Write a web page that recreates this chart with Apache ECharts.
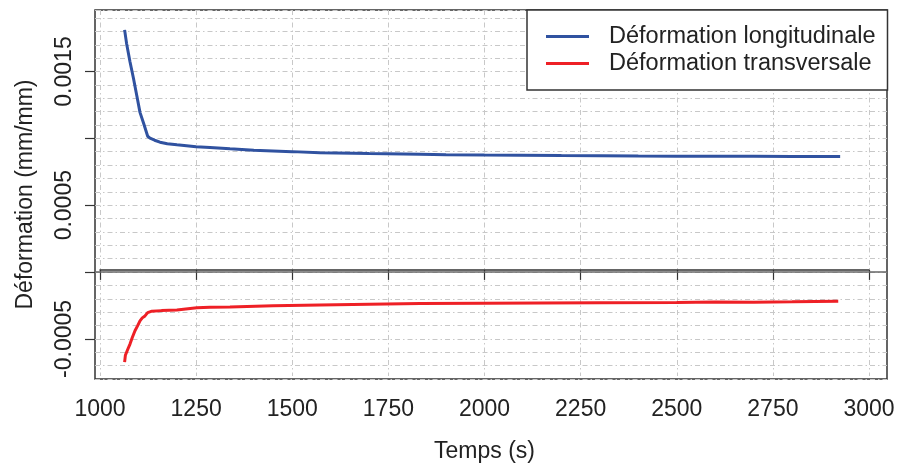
<!DOCTYPE html>
<html>
<head>
<meta charset="utf-8">
<script src="https://cdn.jsdelivr.net/npm/echarts@6/dist/echarts.min.js"></script>
<style>
  html, body { margin: 0; padding: 0; background: #fff; }
  #chart { width: 898px; height: 468px; }
</style>
</head>
<body>
<div id="chart"></div>
<script>
// temps (s) et deformation longitudinale (mm/mm)
var tempsLong = [1064, 1069, 1078, 1087, 1096, 1104, 1114, 1124, 1130, 1142, 1156, 1175, 1200, 1250, 1286, 1338,
  1400, 1500, 1572, 1700, 1833, 1900, 2000, 2093, 2200, 2300, 2400, 2500, 2600, 2700, 2800, 2925];
var defLong = [0.00181, 0.00171, 0.00157, 0.001445, 0.00131, 0.001188, 0.00110, 0.001008, 0.000993, 0.000978, 0.000963, 0.000952, 0.000943, 0.000928, 0.000923, 0.000913,
  0.000903, 0.000892, 0.000883, 0.000877, 0.000873, 0.000869, 0.000866, 0.000865, 0.000862, 0.000861, 0.000859, 0.000858, 0.000857, 0.000857, 0.000856, 0.000855];

// deformation transversale
var tempsTrans = [1064, 1066, 1072, 1078, 1084, 1091, 1098, 1104, 1110, 1117, 1124, 1135, 1160, 1200, 1252, 1286, 1338,
  1450, 1572, 1700, 1833, 2000, 2145, 2300, 2500, 2600, 2700, 2800, 2920];
var defTrans = [-0.000696, -0.000644, -0.0006, -0.000559, -0.00051, -0.000459, -0.00042, -0.000384, -0.000362, -0.000347, -0.000322, -0.000311, -0.000307, -0.000303, -0.000285, -0.000282, -0.000279,
  -0.00027, -0.000264, -0.000259, -0.000254, -0.000251, -0.000249, -0.000247, -0.000245, -0.000242, -0.000243, -0.000241, -0.000237];

var xTicks = [1000, 1250, 1500, 1750, 2000, 2250, 2500, 2750, 3000];
var yTicks = [-0.0005, 0, 0.0005, 0.001, 0.0015];
var yLabels = [-0.0005, 0.0005, 0.0015];
var zeroLine = [[0, 0], [1, 0]];

var nomLong = 'Déformation longitudinale';
var nomTrans = 'Déformation transversale';

function pairs(xs, ys) {
  var out = [];
  for (var i = 0; i < xs.length; i++) out.push([xs[i], ys[i]]);
  return out;
}

var police = "'Liberation Sans', Arial, sans-serif";
var gridLine = { color: '#c8c8c8', width: 1, type: [5, 3, 1.5, 3] };
var yMin = -0.0008, yMax = 0.00196;

var chart = echarts.init(document.getElementById('chart'));
chart.setOption({
  animation: false,
  textStyle: { fontFamily: police },
  grid: [
    // cadre du graphique
    { left: 95, right: 11, top: 10, bottom: 89, show: true, borderColor: '#333', borderWidth: 1.5, backgroundColor: 'transparent' },
    // zone des donnees (1000 -> 3000)
    { left: 100, right: 29, top: 10, bottom: 89, show: false }
  ],
  xAxis: [
    { gridIndex: 0, type: 'value', min: 0, max: 1, show: false },
    {
      gridIndex: 1, type: 'value', min: 1000, max: 3000, interval: 125,
      name: 'Temps (s)', nameLocation: 'middle', nameGap: 64,
      nameTextStyle: { fontSize: 23, color: '#222', fontFamily: police },
      axisLine: { show: true, lineStyle: { color: '#333', width: 1.5 } },
      axisTick: { show: true, length: 10, customValues: xTicks, lineStyle: { color: '#333', width: 1.2 } },
      axisLabel: {
        customValues: xTicks, fontSize: 23, color: '#222', margin: 22, fontFamily: police,
        formatter: function (v) { return String(v); }
      },
      splitLine: { show: true, lineStyle: gridLine }
    }
  ],
  yAxis: [
    {
      gridIndex: 0, type: 'value', min: yMin, max: yMax, position: 'left',
      name: 'Déformation (mm/mm)', nameLocation: 'middle', nameGap: 58,
      nameTextStyle: { fontSize: 23, color: '#222', fontFamily: police },
      axisLine: { show: false },
      axisTick: { show: true, length: 10, customValues: yTicks, lineStyle: { color: '#333', width: 1.2 } },
      axisLabel: {
        customValues: yLabels, rotate: 90, fontSize: 23, color: '#222', margin: 19, fontFamily: police,
        formatter: function (v) { return String(v); }
      },
      splitLine: { show: false }
    },
    {
      gridIndex: 0, type: 'value', min: yMin, max: yMax, interval: 0.0001, position: 'right',
      axisLine: { show: false }, axisTick: { show: false }, axisLabel: { show: false },
      splitLine: { show: true, lineStyle: gridLine }
    },
    { gridIndex: 1, type: 'value', min: yMin, max: yMax, show: false }
  ],
  legend: {
    data: [nomLong, nomTrans],
    orient: 'vertical',
    left: 527, top: 10,
    padding: [13, 12, 13, 19],
    itemGap: 0,
    icon: 'rect',
    itemWidth: 43, itemHeight: 3,
    backgroundColor: '#fff',
    borderColor: '#333', borderWidth: 1.5, borderRadius: 0,
    textStyle: { fontSize: 23.5, color: '#222', lineHeight: 27, padding: [0, 0, 0, 15], fontFamily: police }
  },
  series: [
    {
      name: '', type: 'line', xAxisIndex: 0, yAxisIndex: 0, data: zeroLine,
      symbol: 'none', silent: true, lineStyle: { color: '#666', width: 1.5 }, z: 1
    },
    {
      name: nomLong, type: 'line', xAxisIndex: 1, yAxisIndex: 2, data: pairs(tempsLong, defLong),
      symbol: 'none', color: '#3052a0', lineStyle: { color: '#3052a0', width: 3 }, z: 3
    },
    {
      name: nomTrans, type: 'line', xAxisIndex: 1, yAxisIndex: 2, data: pairs(tempsTrans, defTrans),
      symbol: 'none', color: '#ee2026', lineStyle: { color: '#ee2026', width: 3 }, z: 3
    }
  ]
});
</script>
</body>
</html>
